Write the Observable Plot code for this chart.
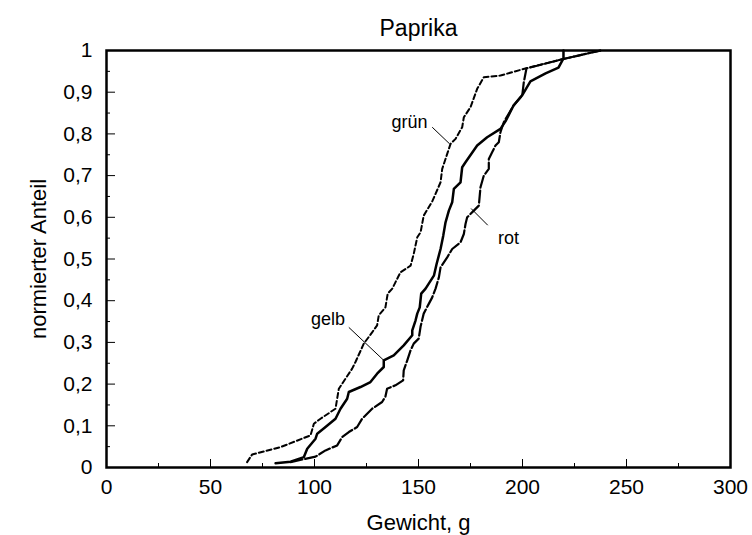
<!DOCTYPE html>
<html><head><meta charset="utf-8">
<script src="https://cdn.jsdelivr.net/npm/d3@7"></script>
<script src="https://cdn.jsdelivr.net/npm/@observablehq/plot@0.6"></script>
<style>html,body{margin:0;padding:0;background:#fff;} svg{display:block}</style>
</head><body><div id="chart"></div>
<script>
// Series: [Gewicht g, normierter Anteil]
const gruen = [[67.6,0.013],[70.0,0.031],[83.7,0.049],[98.1,0.077],[99.7,0.105],[102.9,0.117],[110.1,0.141],[111.7,0.189],[113.3,0.201],[118.1,0.237],[119.7,0.253],[123.7,0.297],[127.7,0.324],[130.1,0.341],[130.9,0.365],[134.1,0.384],[135.2,0.417],[137.4,0.429],[141.3,0.468],[146.2,0.484],[147.7,0.512],[149.4,0.552],[151.0,0.564],[152.5,0.604],[156.6,0.638],[160.6,0.684],[161.4,0.716],[165.4,0.776],[167.8,0.788],[171.0,0.816],[171.8,0.840],[175.0,0.864],[178.2,0.908],[181.4,0.936],[189.4,0.940],[202.3,0.958],[218.3,0.978],[237.5,1.0]];
const gelb = [[81.3,0.010],[88.5,0.014],[94.9,0.025],[96.5,0.045],[100.5,0.069],[101.3,0.081],[105.3,0.097],[110.1,0.117],[112.5,0.141],[115.7,0.165],[116.5,0.181],[122.1,0.193],[126.9,0.205],[130.1,0.225],[133.3,0.241],[133.3,0.257],[138.1,0.269],[142.9,0.293],[147.0,0.317],[147.0,0.329],[148.6,0.353],[149.4,0.369],[150.6,0.384],[151.3,0.417],[153.4,0.429],[157.4,0.460],[158.7,0.488],[160.6,0.524],[161.9,0.556],[163.0,0.588],[164.6,0.616],[166.2,0.636],[167.0,0.668],[170.2,0.684],[171.0,0.720],[172.6,0.732],[178.2,0.772],[183.0,0.792],[189.4,0.812],[191.8,0.830],[195.7,0.868],[199.9,0.893],[203.8,0.926],[211.1,0.945],[217.3,0.959],[219.7,0.981],[219.7,1.0]];
const rot = [[88.5,0.013],[100.5,0.026],[105.3,0.041],[110.9,0.053],[113.3,0.073],[116.5,0.085],[120.5,0.097],[122.9,0.117],[127.7,0.141],[132.5,0.157],[134.1,0.170],[134.9,0.189],[138.9,0.197],[142.6,0.209],[142.9,0.233],[144.6,0.257],[146.2,0.281],[147.7,0.297],[150.1,0.309],[151.0,0.338],[152.5,0.369],[155.0,0.393],[156.6,0.408],[158.2,0.429],[159.8,0.456],[160.6,0.480],[163.8,0.504],[166.2,0.524],[170.2,0.540],[171.8,0.560],[172.6,0.584],[173.4,0.600],[176.6,0.616],[179.0,0.628],[179.8,0.672],[181.4,0.700],[183.8,0.716],[183.8,0.740],[185.4,0.756],[187.0,0.772],[188.6,0.780],[189.4,0.804],[191.0,0.828],[195.7,0.868],[199.9,0.893],[200.6,0.923],[201.9,0.957],[218.3,0.978],[237.5,1.0]];

const xTicks = [0,50,100,150,200,250,300];
const xMinorTicks = [25,75,125,175,225,275];
const yTicks = [0,0.1,0.2,0.3,0.4,0.5,0.6,0.7,0.8,0.9,1];
const yTickLabels = ["0","0,1","0,2","0,3","0,4","0,5","0,6","0,7","0,8","0,9","1"];
const yMinorTicks = [0.05,0.15,0.25,0.35,0.45,0.55,0.65,0.75,0.85,0.95];

const seriesNames = ["grün","gelb","rot"];
const labelX = [145.7,106.5,193.3];
const labelY = [0.815,0.341,0.537];
// leader lines: from label to curve
const leaderX1 = [156.6,116.5,175.3];
const leaderY1 = [0.816,0.336,0.621];
const leaderX2 = [165.0,133.3,183.3];
const leaderY2 = [0.776,0.257,0.581];

const title = "Paprika";
const xLabel = "Gewicht, g";
const yLabel = "normierter Anteil";

const W = 752, H = 535;
const mL = 106, mR = 22, mT = 50, mB = 68;
const plotW = W - mL - mR, plotH = H - mT - mB;

const labels = seriesNames.map((n,i)=>({name:n, x:labelX[i], y:labelY[i]}));
const leaders = seriesNames.map((n,i)=>({x1:leaderX1[i], y1:leaderY1[i], x2:leaderX2[i], y2:leaderY2[i]}));
const yLabelMap = new Map(yTicks.map((t,i)=>[t, yTickLabels[i]]));

const chart = Plot.plot({
  width: W, height: H,
  marginLeft: mL, marginRight: mR, marginTop: mT, marginBottom: mB,
  style: {fontFamily: "Arial, 'Liberation Sans', sans-serif", color: "black", background: "white"},
  x: {domain: [0,300]},
  y: {domain: [0,1]},
  marks: [
    Plot.axisX({ticks: xTicks, tickSize: 0, tickPadding: 12, fontSize: 21, label: null, tickFormat: d => String(d)}),
    Plot.axisY({ticks: yTicks, tickSize: 0, tickPadding: 14, fontSize: 21, label: null, tickFormat: d => yLabelMap.get(d)}),
    Plot.tickX(xTicks, {x: d => d, insetTop: plotH - 8, stroke: "black", strokeWidth: 1}),
    Plot.tickX(xMinorTicks, {x: d => d, insetTop: plotH - 4, stroke: "black", strokeWidth: 1}),
    Plot.tickY(yTicks, {y: d => d, insetRight: plotW - 9, stroke: "black", strokeWidth: 1}),
    Plot.tickY(yMinorTicks, {y: d => d, insetRight: plotW - 4, stroke: "black", strokeWidth: 1}),
    Plot.frame({stroke: "black", strokeWidth: 2.5}),
    Plot.line(gruen, {x: d => d[0], y: d => d[1], stroke: "black", strokeWidth: 2, strokeDasharray: "5,3"}),
    Plot.line(rot, {x: d => d[0], y: d => d[1], stroke: "black", strokeWidth: 2.2, strokeDasharray: "12,3"}),
    Plot.line(gelb, {x: d => d[0], y: d => d[1], stroke: "black", strokeWidth: 2.5}),
    Plot.link(leaders, {x1: "x1", y1: "y1", x2: "x2", y2: "y2", stroke: "black", strokeWidth: 1}),
    Plot.text(labels, {x: "x", y: "y", text: "name", fontSize: 18, lineAnchor: "bottom", textAnchor: "middle", fill: "black"}),
    Plot.text([title], {frameAnchor: "top", lineAnchor: "bottom", dy: -15, fontSize: 23, fill: "black"}),
    Plot.text([xLabel], {frameAnchor: "bottom", lineAnchor: "bottom", dy: 62, fontSize: 22, fill: "black"}),
    Plot.text([yLabel], {frameAnchor: "left", textAnchor: "middle", lineAnchor: "middle", rotate: -90, dx: -68, fontSize: 22, fill: "black"})
  ]
});
document.getElementById("chart").appendChild(chart);
</script>
</body></html>
